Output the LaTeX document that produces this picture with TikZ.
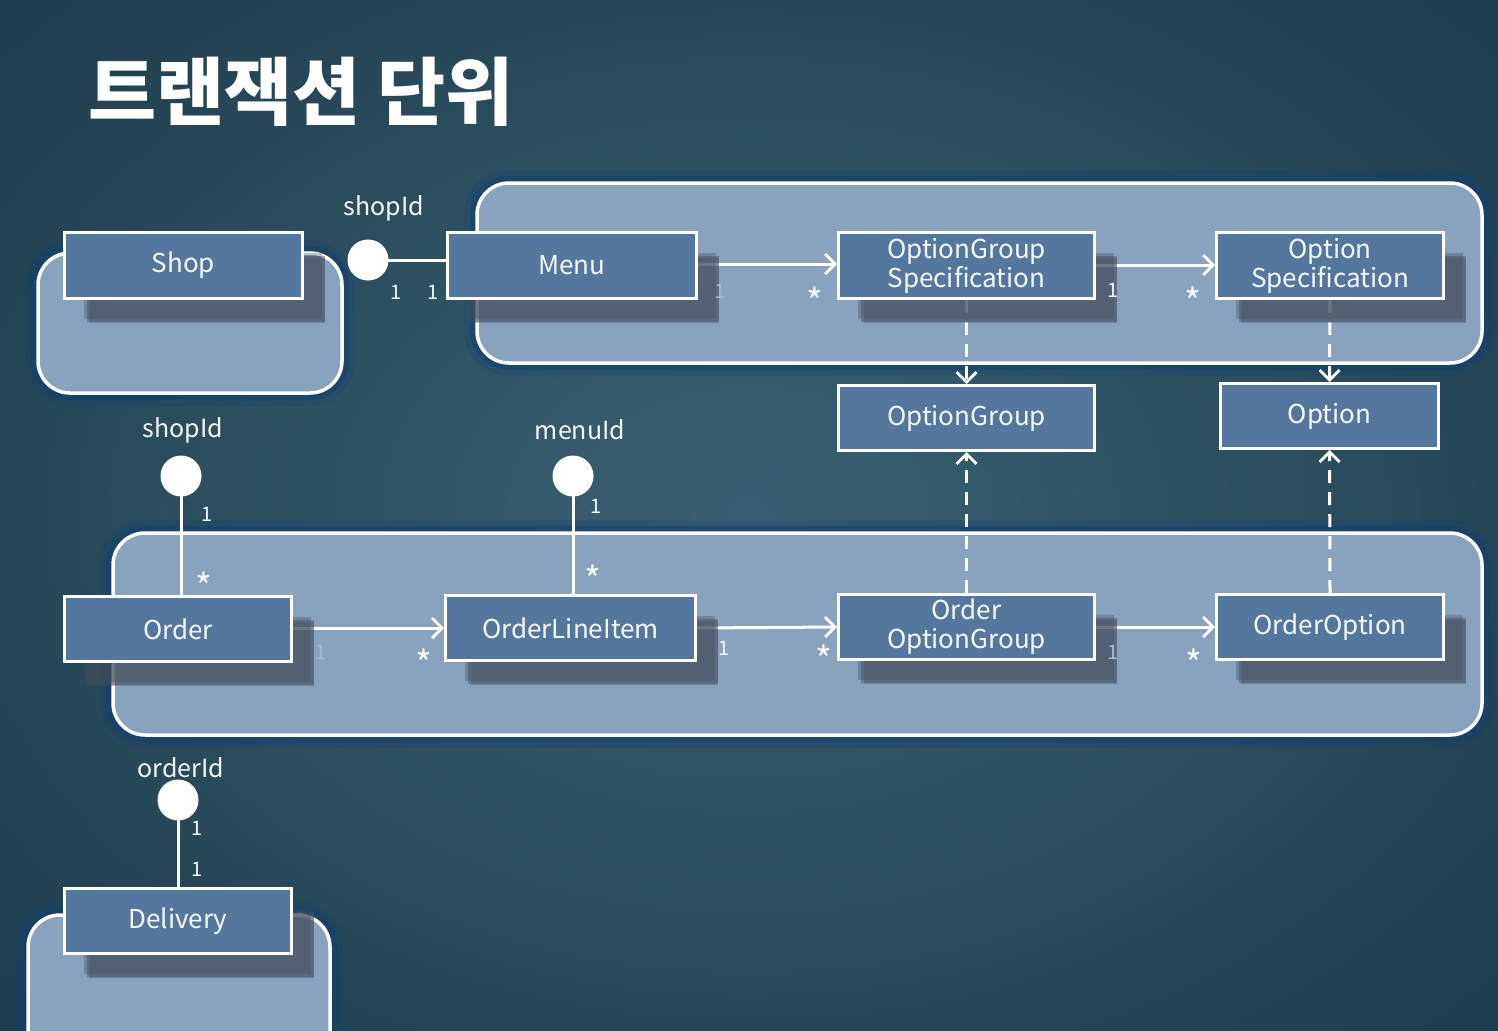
\documentclass[tikz,border=0pt]{standalone}
\usepackage{fontspec}
\setmainfont{Noto Sans CJK KR}
\newfontfamily\krfont{Noto Sans CJK KR}
\usetikzlibrary{arrows.meta,shadows}
\definecolor{bgin}{RGB}{58,97,115}
\definecolor{bgout}{RGB}{32,62,78}
\definecolor{grpfill}{RGB}{137,162,189}
\definecolor{entfill}{RGB}{86,119,157}
\definecolor{shadowc}{RGB}{66,78,94}
\definecolor{glowc}{RGB}{20,64,112}
\definecolor{fadec}{RGB}{170,186,204}
\definecolor{txtc}{RGB}{245,248,250}
\pgfdeclarelayer{bg}
\pgfdeclarelayer{conn}
\pgfsetlayers{bg,conn,main}
\tikzset{
  grp/.style={draw=white, line width=3.5pt, fill=grpfill, rounded corners=32pt, inner sep=0pt,
    preaction={draw=glowc, line width=26pt, opacity=0.25},
    preaction={draw=glowc, line width=14pt, opacity=0.5}},
  entbase/.style={draw=white, line width=3pt, fill=entfill, text=txtc, align=center, inner sep=0pt,
    font=\fontsize{26}{31}\selectfont, minimum height=66pt},
  entity/.style={entbase,
    drop shadow={shadow xshift=19pt, shadow yshift=-20pt, fill=shadowc, opacity=0.35},
    drop shadow={shadow xshift=22pt, shadow yshift=-23pt, fill=shadowc, opacity=0.45},
    drop shadow={shadow xshift=24pt, shadow yshift=-25pt, shadow scale=0.99, fill=shadowc, opacity=0.35}},
  arr/.style={draw=white, line width=3pt, -{Straight Barb[length=10pt,width=20pt,line width=2.8pt]}},
  dashconn/.style={arr, dash pattern=on 13pt off 9pt},
  link/.style={draw=white, line width=3pt},
  lolli/.style={circle, fill=white, minimum size=41pt, inner sep=0pt},
  keylbl/.style={text=txtc, font=\fontsize{25}{25}\selectfont, inner sep=0pt},
  mult/.style={text=txtc, font=\fontsize{20}{20}\selectfont, inner sep=0pt},
  fmult/.style={mult, text=fadec},
  star/.style={text=txtc, font=\fontsize{36}{36}\selectfont, inner sep=0pt, yshift=-8pt},
}
\begin{document}
\begin{tikzpicture}[x=1pt,y=-1pt]
\useasboundingbox (0,0) rectangle (1498,1030);
\clip (0,0) rectangle (1498,1030);
\begin{pgfonlayer}{bg}
\shade[inner color=bgin, outer color=bgout] (-250,-200) rectangle (1748,1230);
\node[grp, minimum width=304pt, minimum height=140pt] (gshop) at (190,323) {};
\node[grp, minimum width=1005pt, minimum height=180pt] (gmenu) at (979.5,273) {};
\node[grp, minimum width=1369pt, minimum height=202pt] (gorder) at (797.5,634) {};
\node[grp, minimum width=302pt, minimum height=160pt] (gdeliv) at (179,995) {};
\end{pgfonlayer}

\node[text=white, font=\krfont\bfseries\fontsize{74}{74}\selectfont, inner sep=0pt] (title) at (301,92) {트랜잭션 단위};

\node[entity, minimum width=238pt] (shop) at (183.5,265.5) {Shop};
\node[entity, minimum width=249pt] (menu) at (572,265.5) {Menu};
\node[entity, minimum width=256pt] (ogs) at (966.5,265.5) {OptionGroup\\[-2pt]Specification};
\node[entity, minimum width=227pt] (os) at (1330,265.5) {Option\\[-2pt]Specification};
\node[entbase, minimum width=256pt, minimum height=65pt] (og) at (966.5,418) {OptionGroup};
\node[entbase, minimum width=218pt, minimum height=65pt] (opt) at (1329.5,416) {Option};
\node[entity, minimum width=227pt, minimum height=65pt] (order) at (178,629) {Order};
\node[entity, minimum width=250pt, minimum height=65pt] (oli) at (570.5,628) {OrderLineItem};
\node[entity, minimum width=256pt, minimum height=65pt] (oog) at (966.5,627) {Order\\[-2pt]OptionGroup};
\node[entity, minimum width=227pt, minimum height=65pt] (oo) at (1330,627) {OrderOption};
\node[entity, minimum width=227pt, minimum height=65pt] (deliv) at (178,921) {Delivery};

\node[lolli] (k1) at (368,260) {};
\node[lolli] (k2) at (181,476) {};
\node[lolli] (k3) at (573,476) {};
\node[lolli] (k4) at (178,800) {};
\node[keylbl] (k1l) at (384,208) {shopId};
\node[keylbl] (k2l) at (183,430) {shopId};
\node[keylbl] (k3l) at (580,430) {menuId};
\node[keylbl] (k4l) at (181,768) {orderId};

\begin{pgfonlayer}{conn}
\draw[link] (k1.center) -- (k1.center -| menu.west);
\draw[link] (k2.center) -- (k2.center |- order.north);
\draw[link] (k3.center) -- (k3.center |- oli.north);
\draw[link] (k4.center) -- (k4.center |- deliv.north);
\draw[arr] ([yshift=1.5pt]menu.east) -- ([yshift=1.5pt]ogs.west);
\draw[arr] ([yshift=0.5pt]ogs.east) -- ([yshift=0.5pt]os.west);
\draw[dashconn] (ogs.south) -- (og.north);
\draw[dashconn] (os.south) -- (opt.north);
\draw[dashconn] (oog.north) -- (og.south);
\draw[dashconn] (oo.north) -- (opt.south);
\draw[arr] (order.east |- oli.east) -- (oli.west);
\draw[arr] (oli.east) -- (oog.west);
\draw[arr] (oog.east) -- (oo.west);
\end{pgfonlayer}

\node[mult] (m1) at (396,292) {1};
\node[mult] (m2) at (433,292) {1};
\node[fmult] (m3) at (720,291) {1};
\node[star] (m4) at (815,293) {*};
\node[mult] (m5) at (1113,290) {1};
\node[star] (m6) at (1193,293) {*};
\node[mult] (m7) at (207,514) {1};
\node[star] (m8) at (204,578) {*};
\node[mult] (m9) at (596,506) {1};
\node[star] (m10) at (593,571) {*};
\node[fmult] (m11) at (321,652) {1};
\node[star] (m12) at (424,655) {*};
\node[mult] (m13) at (724,648) {1};
\node[star] (m14) at (824,651) {*};
\node[fmult] (m15) at (1113,652) {1};
\node[star] (m16) at (1194,655) {*};
\node[mult] (m17) at (197,828) {1};
\node[mult] (m18) at (197,869) {1};
\end{tikzpicture}
\end{document}
